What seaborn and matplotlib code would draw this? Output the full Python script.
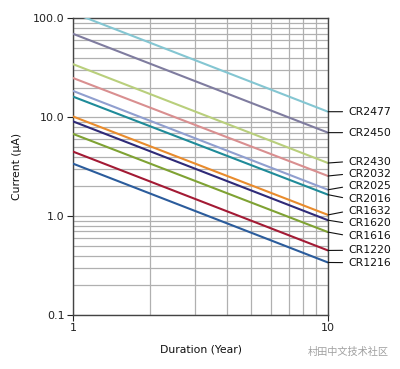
import numpy as np
import pandas as pd
import matplotlib
matplotlib.use("Agg")
import matplotlib.pyplot as plt
import matplotlib.transforms as mtransforms
from matplotlib.ticker import FixedLocator, FixedFormatter, NullFormatter, LogLocator
import seaborn as sns

# battery types, current at 1 year and at 10 years (uA)
batteries = ["CR2477", "CR2450", "CR2430", "CR2032", "CR2025", "CR2016",
             "CR1632", "CR1620", "CR1616", "CR1220", "CR1216"]
years = [1, 10]
current_1y = [114.0, 70.0, 34.5, 25.0, 18.5, 16.2, 10.2, 9.1, 6.8, 4.5, 3.4]
current_10y = [11.4, 7.0, 3.45, 2.55, 1.85, 1.65, 1.03, 0.91, 0.69, 0.45, 0.34]
colors = ["#84c6d2", "#7f7c9f", "#b9cf7c", "#d98f90", "#909fcf", "#1f8b99",
          "#e98b2c", "#2f2a78", "#7fa233", "#a31a34", "#2b5c9c"]

y_ticks = [0.1, 1.0, 10.0, 100.0]
y_tick_labels = ["0.1", "1.0", "10.0", "100.0"]
x_ticks = [1, 10]
x_tick_labels = ["1", "10"]

rows = []
for name, a, b in zip(batteries, current_1y, current_10y):
    rows.append({"Battery": name, "Year": years[0], "Current": a})
    rows.append({"Battery": name, "Year": years[1], "Current": b})
df = pd.DataFrame(rows)

sns.set_theme(style="white")
plt.rcParams["font.family"] = ["DejaVu Sans"]

fig = plt.figure(figsize=(4.0, 3.69), dpi=100)
ax = fig.add_axes([0.1825, 0.1463, 0.6375, 0.8036])

sns.lineplot(data=df, x="Year", y="Current", hue="Battery",
             palette=dict(zip(batteries, colors)), linewidth=1.5,
             legend=False, ax=ax, zorder=3)

ax.set_xscale("log")
ax.set_yscale("log")
ax.set_xlim(1, 10)
ax.set_ylim(0.1, 100)

ax.xaxis.set_major_locator(FixedLocator(x_ticks))
ax.xaxis.set_major_formatter(FixedFormatter(x_tick_labels))
ax.xaxis.set_minor_locator(LogLocator(base=10, subs=np.arange(2, 10)))
ax.xaxis.set_minor_formatter(NullFormatter())
ax.yaxis.set_major_locator(FixedLocator(y_ticks))
ax.yaxis.set_major_formatter(FixedFormatter(y_tick_labels))
ax.yaxis.set_minor_locator(LogLocator(base=10, subs=np.arange(2, 10)))
ax.yaxis.set_minor_formatter(NullFormatter())

ax.grid(True, which="both", color="#b0b0b0", linewidth=0.9, zorder=0)
ax.tick_params(which="major", direction="out", length=4, width=0.8,
               labelsize=8, colors="#222222", pad=2, left=True, bottom=True)
ax.tick_params(which="minor", length=0)
for s in ax.spines.values():
    s.set_color("#444444")
    s.set_linewidth(1.0)

ax.set_xlabel("Duration (Year)", fontsize=7.8, labelpad=8, color="#111111")
ax.set_ylabel("Current (μA)", fontsize=7.8, labelpad=8, color="#111111")

# spread the end labels so they do not overlap (in log10 units)
pos = np.log10(np.array(current_10y))
order = np.argsort(-pos)
lab = pos[order].copy()
gap = 0.125
for _ in range(300):
    for i in range(len(lab) - 1):
        d = lab[i] - lab[i + 1]
        if d < gap:
            shift = (gap - d) / 2
            lab[i] += shift
            lab[i + 1] -= shift
label_y = np.empty_like(lab)
label_y[order] = lab

trans = mtransforms.blended_transform_factory(ax.transAxes, ax.transData)
for name, end, ly in zip(batteries, current_10y, label_y):
    ax.annotate(name, xy=(10, end), xytext=(1.078, 10 ** ly), textcoords=trans,
                fontsize=7.8, ha="left", va="center", color="#111111",
                annotation_clip=False,
                arrowprops=dict(arrowstyle="-", color="#111111", lw=0.8,
                                shrinkA=1.5, shrinkB=0, relpos=(0, 0.5)))

fig.text(0.77, 0.045, "村田中文技术社区", fontsize=7.3, color="#a0a0a0",
         family=["Noto Sans CJK SC", "DejaVu Sans"], ha="left", va="center")

fig.savefig("out.png", dpi=100)
